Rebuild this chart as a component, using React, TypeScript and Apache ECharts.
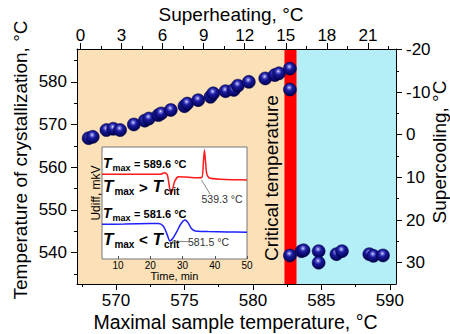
import React, { useEffect, useRef } from "react";
import * as echarts from "echarts";

const FONT = '"Liberation Sans", Arial, Helvetica, sans-serif';

// ---- main axes ----
const xRange = [567.15, 590.45];
const yRange = [532.6, 587.7];
const xMajor = [570, 575, 580, 585, 590];
const xMinor = [567.5, 572.5, 577.5, 582.5, 587.5];
const yMajor = [540, 550, 560, 570, 580];
const yMinor = [535, 545, 555, 565, 575, 585];
const superheatMajor = [0, 3, 6, 9, 12, 15, 18, 21];
const superheatMinor = [1.5, 4.5, 7.5, 10.5, 13.5, 16.5, 19.5, 22.5];
const supercoolMajor = [-20, -10, 0, 10, 20, 30];
const supercoolMinor = [-15, -5, 5, 15, 25];
const liquidusTop = 567.4;
const liquidusRight = 567.6;

// ---- zones ----
const zoneEdges = [582.3, 583.2];
const zoneColors = ["#FBE0B8", "#FF0000", "#B4EEF7"];

// ---- data: below critical temperature ----
const tMaxLow = [568.0, 568.3, 569.3, 569.8, 570.3, 571.3, 572.1, 572.4, 573.1, 573.3, 574.0, 575.0, 575.2, 576.0, 576.9, 577.1, 578.0, 578.6, 578.9, 579.7, 580.9, 581.6, 581.9, 582.7, 582.7];
const tCrystLow = [566.8, 567.1, 568.7, 569.0, 568.7, 570.0, 570.9, 571.4, 572.2, 572.6, 573.4, 574.3, 574.9, 575.7, 576.5, 577.3, 577.8, 578.1, 579.1, 580.0, 580.8, 581.6, 582.0, 583.1, 578.2];
// ---- data: above critical temperature ----
const tMaxHigh = [582.7, 583.55, 583.7, 584.8, 584.8, 586.1, 586.5, 588.5, 588.8, 589.5];
const tCrystHigh = [539.3, 540.3, 540.5, 540.3, 537.6, 539.6, 540.3, 539.6, 539.2, 539.3];

// ---- inset DTA curves ----
const insetTimeRange = [5, 50];
const insetTimeTicks = [10, 20, 30, 40, 50];
const redTime = [5, 10, 15, 20, 23, 24.5, 25.3, 26, 26.4, 26.9, 27.5, 28.7, 31, 34, 36.0, 36.5, 36.8, 37.1, 37.5, 38.3, 42, 46, 50];
const redSignal = [75.6, 75.6, 75.6, 75.6, 75.6, 77, 75, 63, 57.8, 62, 69, 73.5, 73.2, 72.6, 72.8, 88, 97.3, 88, 76, 72.3, 71.2, 70.8, 70.5];
const blueTime = [5, 12, 20, 22.5, 24, 25.2, 26.1, 27, 28.2, 29.5, 30.8, 31.8, 32.8, 34, 38, 44, 50];
const blueSignal = [31, 31.2, 31.6, 31.8, 29.5, 22, 16, 18.5, 24.4, 31.5, 34.8, 32, 27, 25, 24.5, 24.2, 23.8];

const zip = (a: number[], b: number[]) => a.map((v, i) => [v, b[i]]);

let measureCtx: CanvasRenderingContext2D | null = null;
function measure(text: string, font: string) {
  if (!measureCtx) measureCtx = document.createElement("canvas").getContext("2d");
  if (!measureCtx) return text.length * 6;
  measureCtx.font = font;
  return measureCtx.measureText(text).width;
}

type Piece = { text: string; size: number; italic?: boolean; sub?: boolean };
function richLine(x0: number, baseline: number, pieces: Piece[]) {
  const els: any[] = [];
  let x = x0;
  for (const p of pieces) {
    const font = `${p.italic ? "italic " : ""}bold ${p.size}px "Liberation Sans"`;
    const w = measure(p.text, font);
    const yb = baseline + (p.sub ? 3 : 0);
    els.push({
      type: "text",
      x,
      y: yb - 0.35 * p.size,
      z: 20,
      silent: true,
      style: {
        text: p.text,
        fontSize: p.size,
        fontWeight: "bold",
        fontStyle: p.italic ? "italic" : "normal",
        fontFamily: FONT,
        fill: "#000",
        align: "left",
        verticalAlign: "middle",
      },
    });
    x += w + (p.italic ? 1 : 0.5);
  }
  return els;
}

function plainText(text: string, x: number, y: number, size: number, rot = 0, extra: any = {}) {
  return {
    type: "text",
    x,
    y,
    rotation: rot,
    z: 20,
    silent: true,
    style: {
      text,
      fontSize: size,
      fontFamily: FONT,
      fill: "#000",
      align: "center",
      verticalAlign: "middle",
      ...extra,
    },
  };
}

export default function App() {
  const ref = useRef<HTMLDivElement>(null);
  useEffect(() => {
    if (!ref.current) return;
    const chart = echarts.init(ref.current, undefined, { renderer: "svg" });
    const black = "#000";
    const sphere = new echarts.graphic.RadialGradient(0.45, 0.35, 0.65, [
      { offset: 0, color: "#f0f0ff" },
      { offset: 0.14, color: "#7a7ae0" },
      { offset: 0.4, color: "#1a1a9e" },
      { offset: 1, color: "#00004e" },
    ]);
    const labelStyle = { fontSize: 17, color: black, fontFamily: FONT };
    const majorAxis = (extra: any, values: number[], margin: number) => ({
      type: "value",
      z: 6,
      splitLine: { show: false },
      axisLine: { show: true, onZero: false, lineStyle: { color: black, width: 1 } },
      axisTick: { show: true, inside: false, length: 6, customValues: values, lineStyle: { color: black, width: 1 } },
      axisLabel: { show: true, customValues: values, margin, ...labelStyle },
      ...extra,
    });
    const minorAxis = (extra: any, values: number[]) => ({
      type: "value",
      z: 6,
      splitLine: { show: false },
      axisLine: { show: false, onZero: false },
      axisTick: { show: true, inside: false, length: 3, customValues: values, lineStyle: { color: black, width: 1 } },
      axisLabel: { show: false },
      ...extra,
    });
    const xTop = [xRange[0] - liquidusTop, xRange[1] - liquidusTop];
    const yRight = [liquidusRight - yRange[1], liquidusRight - yRange[0]];

    const option: any = {
      animation: false,
      backgroundColor: "#fff",
      textStyle: { fontFamily: FONT },
      grid: [
        { left: 77, top: 49, right: 54, bottom: 50, containLabel: false, outerBoundsMode: "none" },
        {
          left: 102, top: 147, width: 145, height: 112, show: true, z: 5,
          backgroundColor: "#fff", borderColor: "#777", borderWidth: 1,
          containLabel: false, outerBoundsMode: "none",
        },
      ],
      xAxis: [
        majorAxis({ gridIndex: 0, position: "bottom", min: xRange[0], max: xRange[1] }, xMajor, 8),
        minorAxis({ gridIndex: 0, position: "bottom", min: xRange[0], max: xRange[1] }, xMinor),
        majorAxis({ gridIndex: 0, position: "top", min: xTop[0], max: xTop[1] }, superheatMajor, 5),
        minorAxis({ gridIndex: 0, position: "top", min: xTop[0], max: xTop[1] }, superheatMinor),
        {
          gridIndex: 1, type: "value", position: "bottom", min: insetTimeRange[0], max: insetTimeRange[1], z: 8,
          splitLine: { show: false },
          axisLine: { show: false, onZero: false },
          axisTick: { show: true, inside: true, length: 3, customValues: insetTimeTicks, lineStyle: { color: "#555" } },
          axisLabel: { show: true, customValues: insetTimeTicks, margin: 1, fontSize: 10, color: black, fontFamily: FONT },
        },
      ],
      yAxis: [
        majorAxis({ gridIndex: 0, position: "left", min: yRange[0], max: yRange[1] }, yMajor, 10),
        minorAxis({ gridIndex: 0, position: "left", min: yRange[0], max: yRange[1] }, yMinor),
        majorAxis({ gridIndex: 0, position: "right", inverse: true, min: yRight[0], max: yRight[1] }, supercoolMajor, 10),
        minorAxis({ gridIndex: 0, position: "right", inverse: true, min: yRight[0], max: yRight[1] }, supercoolMinor),
        {
          gridIndex: 1, type: "value", min: 0, max: 100, z: 8,
          splitLine: { show: false }, axisLine: { show: false, onZero: false },
          axisTick: { show: false }, axisLabel: { show: false },
        },
      ],
      series: [
        {
          type: "line", xAxisIndex: 0, yAxisIndex: 0, data: [], z: 1, silent: true,
          markArea: {
            silent: true,
            data: [
              [{ xAxis: xRange[0], itemStyle: { color: zoneColors[0] } }, { xAxis: zoneEdges[0] }],
              [{ xAxis: zoneEdges[0], itemStyle: { color: zoneColors[1] } }, { xAxis: zoneEdges[1] }],
              [{ xAxis: zoneEdges[1], itemStyle: { color: zoneColors[2] } }, { xAxis: xRange[1] }],
            ],
          },
        },
        {
          type: "scatter", xAxisIndex: 0, yAxisIndex: 0, z: 3, symbol: "circle", symbolSize: 13,
          data: zip(tMaxLow, tCrystLow),
          itemStyle: { color: sphere, borderColor: "#00003c", borderWidth: 0.5, opacity: 1 },
        },
        {
          type: "scatter", xAxisIndex: 0, yAxisIndex: 0, z: 3, symbol: "circle", symbolSize: 13,
          data: zip(tMaxHigh, tCrystHigh),
          itemStyle: { color: sphere, borderColor: "#00003c", borderWidth: 0.5, opacity: 1 },
        },
        {
          type: "line", xAxisIndex: 4, yAxisIndex: 4, z: 9, showSymbol: false, smooth: 0.2,
          data: zip(redTime, redSignal), lineStyle: { color: "#ff1a1a", width: 1.5 },
        },
        {
          type: "line", xAxisIndex: 4, yAxisIndex: 4, z: 9, showSymbol: false, smooth: 0.3,
          data: zip(blueTime, blueSignal), lineStyle: { color: "#1f1fff", width: 1.5 },
        },
      ],
      graphic: [
        plainText("Superheating, °C", 231, 14, 19),
        plainText("Maximal sample temperature, °C", 235.5, 322, 19.5),
        plainText("Temperature of crystallization, °C", 20, 160, 19, Math.PI / 2),
        plainText("Supercooling, °C", 439.5, 152, 19, Math.PI / 2),
        plainText("Critical temperature", 271, 178, 19, Math.PI / 2),
        plainText("Udiff, mkV", 95.5, 193, 12, Math.PI / 2),
        plainText("Time, min", 174.5, 275.5, 11),
        plainText("539.3 °C", 222, 199, 10.5, 0, { fill: "#333" }),
        plainText("581.5 °C", 208.5, 241.7, 10.5, 0, { fill: "#333" }),
        { type: "line", z: 20, silent: true, shape: { x1: 201.5, y1: 180, x2: 210, y2: 194 }, style: { stroke: "#666", lineWidth: 0.8 } },
        { type: "line", z: 20, silent: true, shape: { x1: 172, y1: 241.2, x2: 190, y2: 241.7 }, style: { stroke: "#666", lineWidth: 0.8 } },
        ...richLine(103, 168.3, [
          { text: "T", size: 14, italic: true },
          { text: "max", size: 9, sub: true },
          { text: " = 589.6 °C", size: 11 },
        ]),
        ...richLine(103, 192.3, [
          { text: "T", size: 17, italic: true },
          { text: "max", size: 10, sub: true },
          { text: " > ", size: 15 },
          { text: "T", size: 17, italic: true },
          { text: "crit", size: 10, sub: true },
        ]),
        ...richLine(103, 218.3, [
          { text: "T", size: 14, italic: true },
          { text: "max", size: 9, sub: true },
          { text: " = 581.6 °C", size: 11 },
        ]),
        ...richLine(103, 245, [
          { text: "T", size: 17, italic: true },
          { text: "max", size: 10, sub: true },
          { text: " < ", size: 15 },
          { text: "T", size: 17, italic: true },
          { text: "crit", size: 10, sub: true },
        ]),
      ],
    };
    chart.setOption(option);
    return () => chart.dispose();
  }, []);
  return (
    <div
      ref={ref}
      style={{ position: "absolute", left: 0, top: 0, width: 450, height: 334, background: "#fff" }}
    />
  );
}
